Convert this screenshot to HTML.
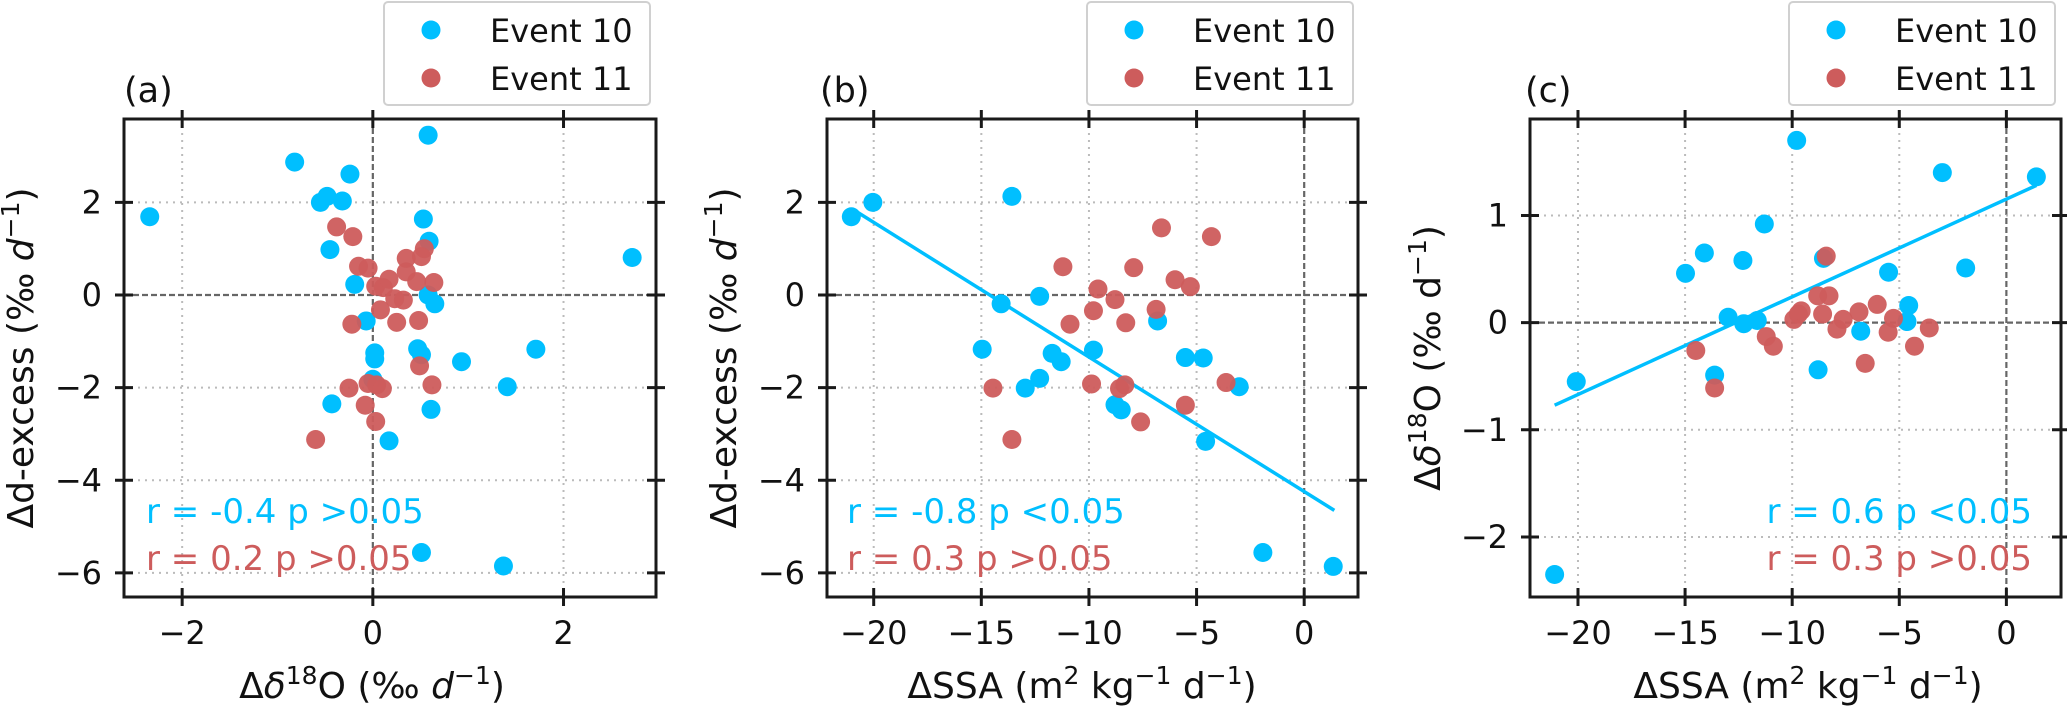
<!DOCTYPE html>
<html><head><meta charset="utf-8"><style>
html,body{margin:0;padding:0;background:#fff;}
svg text{font-family:"DejaVu Sans","Liberation Sans",sans-serif;fill:#111;}
</style></head><body>
<svg id="fig" width="2067" height="714" viewBox="0 0 2067 714" xmlns="http://www.w3.org/2000/svg"></svg>
<script>
// Panel (a): Δδ18O vs Δd-excess
const aBlueX=[-2.34,-0.82,-0.24,-0.55,-0.48,-0.32,-0.45,0.58,0.53,0.59,-0.19,0.58,0.65,2.72,-0.07,0.02,0.02,0.47,0.51,0.93,1.71,1.41,0.0,-0.43,0.61,0.17,0.51,1.37];
const aBlueY=[1.69,2.87,2.61,2.0,2.13,2.03,0.98,3.45,1.64,1.16,0.23,0.0,-0.19,0.81,-0.56,-1.25,-1.38,-1.16,-1.29,-1.44,-1.17,-1.98,-1.82,-2.35,-2.47,-3.15,-5.56,-5.85];
const aRedX=[-0.38,-0.21,-0.15,-0.05,0.35,0.54,0.51,0.35,0.46,0.64,0.03,0.11,0.17,0.23,0.32,0.08,-0.22,0.25,0.48,0.49,-0.25,-0.05,0.04,0.1,0.62,-0.08,0.03,-0.60];
const aRedY=[1.47,1.26,0.62,0.58,0.79,1.0,0.83,0.5,0.29,0.27,0.19,0.16,0.34,-0.08,-0.11,-0.32,-0.63,-0.59,-0.55,-1.53,-2.01,-1.91,-1.94,-2.02,-1.94,-2.38,-2.73,-3.12];
// Panel (b): ΔSSA vs Δd-excess
const bBlueX=[-21.04,-20.04,-13.58,-12.29,-14.08,-14.96,-11.71,-11.29,-9.79,-12.29,-12.96,-8.79,-8.5,-6.81,-5.52,-4.69,-3.02,-4.58,-1.92,1.35];
const bBlueY=[1.69,2.0,2.13,-0.03,-0.19,-1.17,-1.26,-1.44,-1.19,-1.80,-2.01,-2.37,-2.48,-0.56,-1.35,-1.36,-1.98,-3.16,-5.56,-5.86];
const bRedX=[-6.63,-4.31,-11.21,-7.92,-6.0,-5.29,-9.58,-8.79,-9.79,-6.88,-10.88,-8.29,-14.46,-9.88,-8.58,-8.33,-3.63,-5.52,-7.6,-13.58];
const bRedY=[1.45,1.26,0.61,0.59,0.33,0.18,0.13,-0.10,-0.34,-0.31,-0.63,-0.60,-2.01,-1.92,-2.02,-1.94,-1.89,-2.38,-2.74,-3.12];
const bFitX=[-20.94,1.40];
const bFitY=[1.84,-4.65];
// Panel (c): ΔSSA vs Δδ18O
const cBlueX=[-21.09,-20.08,-14.98,-14.1,-12.3,-11.3,-9.79,-12.99,-12.26,-11.63,-13.62,-8.54,-8.79,-6.8,-5.5,-4.56,-4.64,-2.99,-1.9,1.4];
const cBlueY=[-2.35,-0.55,0.46,0.65,0.58,0.92,1.70,0.05,-0.01,0.02,-0.49,0.60,-0.44,-0.08,0.47,0.16,0.01,1.40,0.51,1.36];
const cRedX=[-14.5,-13.62,-11.21,-10.88,-9.92,-9.71,-9.58,-8.81,-8.28,-8.41,-8.58,-7.91,-7.62,-6.88,-6.59,-6.03,-5.52,-5.27,-4.29,-3.6];
const cRedY=[-0.26,-0.61,-0.13,-0.22,0.03,0.08,0.11,0.25,0.25,0.62,0.08,-0.06,0.03,0.10,-0.38,0.17,-0.09,0.04,-0.22,-0.05];
const cFitX=[-21.09,1.4];
const cFitY=[-0.77,1.28];
// tick labels
const aXTicks=[-2,0,2];
const dexYTicks=[2,0,-2,-4,-6];
const ssaXTicks=[-20,-15,-10,-5,0];
const cYTicks=[1,0,-1,-2];
const blueStats=["r = -0.4 p >0.05","r = -0.8 p <0.05","r = 0.6 p <0.05"];
const redStats=["r = 0.2 p >0.05","r = 0.3 p >0.05","r = 0.3 p >0.05"];

const NS="http://www.w3.org/2000/svg";
const svg=document.getElementById('fig');
const BLUE="#00BFFF", RED="#CD5C5C";
const TF=32, AF=36;
function mk(tag,attrs,parent){const e=document.createElementNS(NS,tag);for(const k in attrs)e.setAttribute(k,attrs[k]);(parent||svg).appendChild(e);return e;}

function panel(p){
  const g=mk('g',{});
  
  
  const sx=v=>p.L+(v-p.x0)/(p.x1-p.x0)*(p.R-p.L);
  const sy=v=>p.T+(p.y1-v)/(p.y1-p.y0)*(p.B-p.T);
  p.xt.forEach(t=>{const x=sx(t);const l=mk('line',{x1:x,x2:x,y1:p.T,y2:p.B,stroke:t===0?'#666':'#bbb','stroke-width':t===0?2.2:2,'stroke-dasharray':t===0?'6,3':'2,5'},g);
    });
  p.yt.forEach(t=>{const y=sy(t);const l=mk('line',{x1:p.L,x2:p.R,y1:y,y2:y,stroke:t===0?'#666':'#bbb','stroke-width':t===0?2.2:2,'stroke-dasharray':t===0?'6,3':'2,5'},g);
    });
  if(p.fx){const l=mk('line',{x1:sx(p.fx[0]),y1:sy(p.fy[0]),x2:sx(p.fx[1]),y2:sy(p.fy[1]),stroke:BLUE,'stroke-width':3.5},g);
    }
  p.bx.forEach((v,i)=>{const c=mk('circle',{cx:sx(v),cy:sy(p.by[i]),r:9.5,fill:BLUE},g);
    });
  p.rx.forEach((v,i)=>{const c=mk('circle',{cx:sx(v),cy:sy(p.ry[i]),r:9.5,fill:RED,'fill-opacity':0.95},g);
    });
  const f=mk('rect',{x:p.L,y:p.T,width:p.R-p.L,height:p.B-p.T,fill:'none',stroke:'#1a1a1a','stroke-width':3},g);
  
  p.xt.forEach(t=>{const x=sx(t);
    mk('line',{x1:x,x2:x,y1:p.B-9,y2:p.B+9,stroke:'#1a1a1a','stroke-width':3},g);
    mk('line',{x1:x,x2:x,y1:p.T-9,y2:p.T+9,stroke:'#1a1a1a','stroke-width':3},g);
    const tx=mk('text',{x:x,y:644,'text-anchor':'middle','font-size':TF},g);
    tx.textContent=String(t).replace('-','\u2212');
    });
  p.yt.forEach(t=>{const y=sy(t);
    mk('line',{x1:p.L-9,x2:p.L+9,y1:y,y2:y,stroke:'#1a1a1a','stroke-width':3},g);
    mk('line',{x1:p.R-9,x2:p.R+9,y1:y,y2:y,stroke:'#1a1a1a','stroke-width':3},g);
    const tx=mk('text',{x:p.L-22,y:y+11,'text-anchor':'end','font-size':TF},g);
    tx.textContent=String(t).replace('-','\u2212');
    });
  const pl=mk('text',{x:p.labX,y:102,'font-size':35},g);pl.textContent='('+p.id+')';
  
  const s1=mk('text',{x:p.stX,y:523,'font-size':34,'text-anchor':p.stA,style:'fill:'+BLUE},g);s1.textContent=p.s1;
  
  const s2=mk('text',{x:p.stX,y:570,'font-size':34,'text-anchor':p.stA,style:'fill:'+RED},g);s2.textContent=p.s2;
  
  const lg=mk('g',{},g);
  mk('rect',{x:p.lgX,y:2,width:266,height:103,rx:4,fill:'#fff',stroke:'#d0d0d0','stroke-width':2},lg);
  [[BLUE,'Event 10',30],[RED,'Event 11',78]].forEach(([c,t,y])=>{
    const e=mk('g',{},lg);
    mk('circle',{cx:p.lgX+47,cy:y,r:9.5,fill:c},e);
    const tt=mk('text',{x:p.lgX+106,y:y+12,'font-size':32},e);tt.textContent=t;});
  const xl=mk('text',{x:p.xlX,y:698,'text-anchor':'middle','font-size':AF},g);xl.innerHTML=p.xl;
  
  const yl=mk('text',{x:0,y:0,'text-anchor':'middle','font-size':AF,transform:'translate('+p.ylX+',358) rotate(-90)'},g);yl.innerHTML=p.yl;
  
}
const S='<tspan dy="-14" font-size="25">', E='</tspan>';
const dexLabel='Δd-excess (‰<tspan font-style="italic"> d</tspan>'+S+'−1'+E+'<tspan dy="14">)</tspan>';
const ssaLabel='ΔSSA (m'+S+'2'+E+'<tspan dy="14"> kg</tspan>'+S+'−1'+E+'<tspan dy="14"> d</tspan>'+S+'−1'+E+'<tspan dy="14">)</tspan>';
panel({id:'a',L:124,R:656,T:119,B:597,x0:-2.61,x1:2.97,y0:-6.52,y1:3.80,xt:aXTicks,yt:dexYTicks,
  bx:aBlueX,by:aBlueY,rx:aRedX,ry:aRedY,labX:124,stX:146,stA:'start',s1:blueStats[0],s2:redStats[0],lgX:384,
  xlX:372,ylX:33,
  xl:'Δ<tspan font-style="italic">δ</tspan>'+S+'18'+E+'<tspan dy="14">O (‰</tspan><tspan font-style="italic"> d</tspan>'+S+'−1'+E+'<tspan dy="14">)</tspan>',
  yl:dexLabel});
panel({id:'b',L:827,R:1358,T:119,B:597,x0:-22.17,x1:2.5,y0:-6.52,y1:3.80,xt:ssaXTicks,yt:dexYTicks,
  bx:bBlueX,by:bBlueY,rx:bRedX,ry:bRedY,fx:bFitX,fy:bFitY,labX:820,stX:847,stA:'start',s1:blueStats[1],s2:redStats[1],lgX:1087,
  xlX:1082,ylX:736,xl:ssaLabel,yl:dexLabel});
panel({id:'c',L:1530,R:2061,T:119,B:597,x0:-22.24,x1:2.55,y0:-2.56,y1:1.90,xt:ssaXTicks,yt:cYTicks,
  bx:cBlueX,by:cBlueY,rx:cRedX,ry:cRedY,fx:cFitX,fy:cFitY,labX:1525,stX:2032,stA:'end',s1:blueStats[2],s2:redStats[2],lgX:1789,
  xlX:1808,ylX:1440,xl:ssaLabel,
  yl:'Δ<tspan font-style="italic">δ</tspan>'+S+'18'+E+'<tspan dy="14">O (‰ d</tspan>'+S+'−1'+E+'<tspan dy="14">)</tspan>'});
</script>
</body></html>
